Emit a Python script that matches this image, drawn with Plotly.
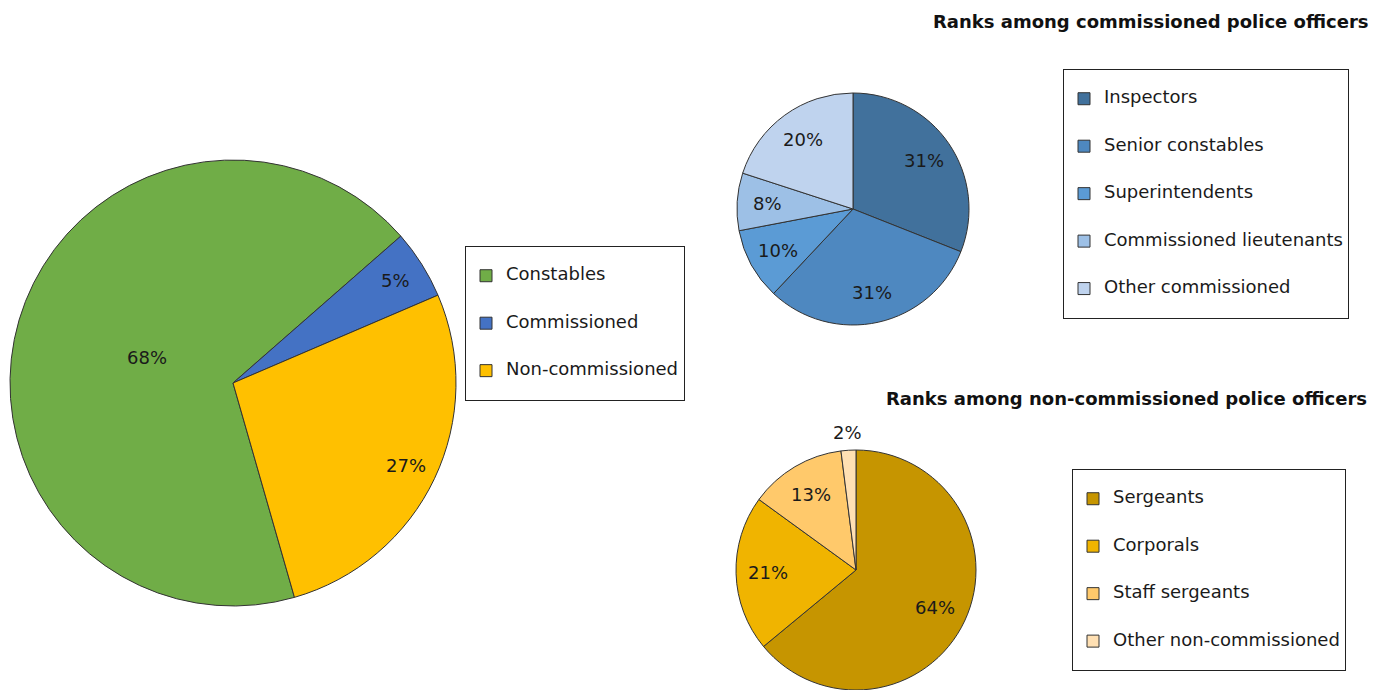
import math
import plotly.graph_objects as go

# Officer shares by rank group (percent of each group)
main_labels = ["Constables", "Commissioned", "Non-commissioned"]
main_values = [68, 5, 27]
main_colors = ["#70AD47", "#4472C4", "#FFC000"]

comm_labels = ["Inspectors", "Senior constables", "Superintendents",
               "Commissioned lieutenants", "Other commissioned"]
comm_values = [31, 31, 10, 8, 20]
comm_colors = ["#41719C", "#4E88C0", "#5B9BD5", "#9DC0E6", "#BFD3EE"]

noncomm_labels = ["Sergeants", "Corporals", "Staff sergeants", "Other non-commissioned"]
noncomm_values = [64, 21, 13, 2]
noncomm_colors = ["#C69500", "#F0B400", "#FFC96B", "#FFE0B3"]

title_comm = "Ranks among commissioned police officers"
title_noncomm = "Ranks among non-commissioned police officers"

W, H = 1385, 690
FONT = "DejaVu Sans, Verdana, sans-serif"
TEXT = "#1a1a1a"
LINE = "#333333"


def px_x(x):
    return x / W


def px_y(y):
    return 1 - y / H


def legend_label(name):
    # blank lines above and below give each legend entry a tall row
    return "<br><span style='font-size:18px'>%s</span><br>" % name


fig = go.Figure()
annotations = []


def add_pie(labels, values, colors, box_x, box_y, legend, rotation=0,
            label_r=0.75, outside_below=0.0, big_r=None):
    """Draw one pie in the pixel box and put its percent labels along each
    slice's mid-angle."""
    fig.add_trace(go.Pie(
        labels=[legend_label(n) for n in labels],
        values=values,
        sort=False,
        direction="clockwise",
        rotation=rotation,
        marker=dict(colors=colors, line=dict(color=LINE, width=1)),
        textinfo="none",
        domain=dict(x=[px_x(box_x[0]), px_x(box_x[1])],
                    y=[max(0.0, px_y(box_y[1])), px_y(box_y[0])]),
        legend=legend,
        hoverinfo="skip",
    ))
    # pie geometry as laid out by plotly: centred in its box, r = min side / 2
    bottom = min(box_y[1], H)
    r = min(box_x[1] - box_x[0], bottom - box_y[0]) / 2
    cx = (box_x[0] + box_x[1]) / 2
    cy = (box_y[0] + bottom) / 2
    total = sum(values)
    cum = 0
    for v in values:
        share = v / total
        theta = math.radians(rotation + 360 * (cum + v / 2) / total)
        cum += v
        if share < outside_below:
            k = 1.15
        elif big_r is not None and share > 0.5:
            k = big_r
        else:
            k = label_r
        x = cx + k * r * math.sin(theta)
        y = cy - k * r * math.cos(theta)
        annotations.append(dict(
            text="%.0f%%" % (share * 100), x=px_x(x), y=px_y(y),
            xref="paper", yref="paper", xanchor="center", yanchor="middle",
            showarrow=False, font=dict(family=FONT, size=18, color=TEXT)))


add_pie(main_labels, main_values, main_colors, (10, 456), (160, 606),
        "legend", rotation=164, label_r=0.86, big_r=0.4)
add_pie(comm_labels, comm_values, comm_colors, (737, 969), (93, 325),
        "legend2", label_r=0.74)
add_pie(noncomm_labels, noncomm_values, noncomm_colors, (735, 977), (450, 690),
        "legend3", label_r=0.73, outside_below=0.05)

legend_style = dict(
    font=dict(family=FONT, size=11.4, color=TEXT),
    bgcolor="white",
    bordercolor="#222222",
    borderwidth=1,
    xanchor="left",
    yanchor="top",
    orientation="v",
    traceorder="normal",
)

for title, x, y in [(title_comm, 1371, 21), (title_noncomm, 1369, 398)]:
    annotations.append(dict(
        text="<b>%s</b>" % title, x=px_x(x), y=px_y(y),
        xref="paper", yref="paper", xanchor="right", yanchor="middle",
        showarrow=False, font=dict(family=FONT, size=18, color="#111111")))

fig.update_layout(
    width=W,
    height=H,
    margin=dict(l=0, r=0, t=0, b=0),
    paper_bgcolor="white",
    plot_bgcolor="white",
    font=dict(family=FONT, color=TEXT),
    showlegend=True,
    legend=dict(x=px_x(465), y=px_y(246), **legend_style),
    legend2=dict(x=px_x(1063), y=px_y(69), **legend_style),
    legend3=dict(x=px_x(1072), y=px_y(469), **legend_style),
    annotations=annotations,
)

fig.write_html("out.html")
